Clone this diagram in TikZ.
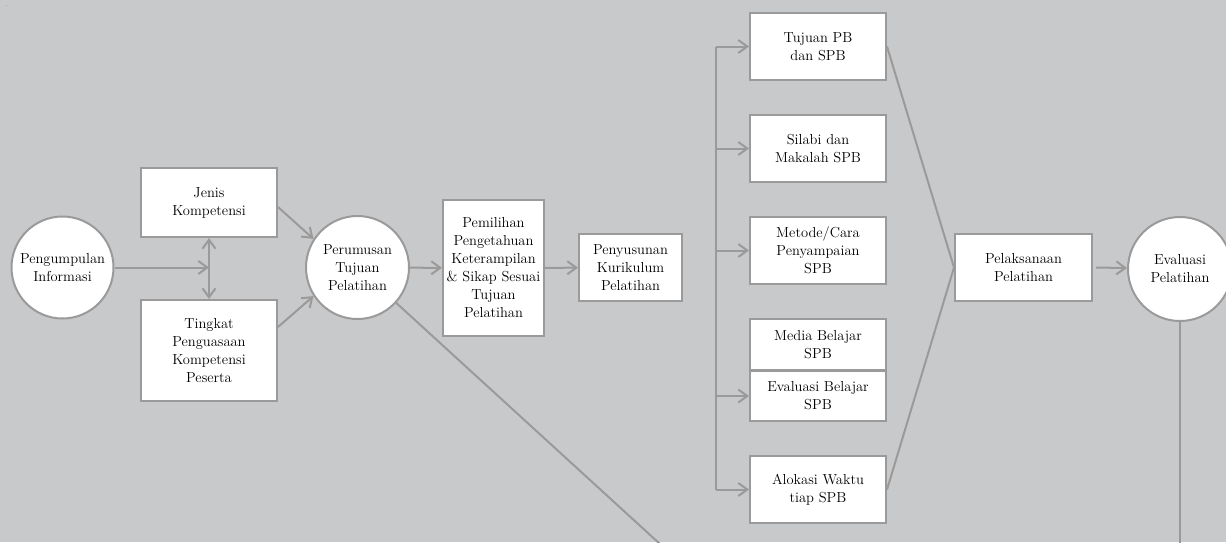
\documentclass[tikz,border=0pt]{standalone}
\usetikzlibrary{arrows.meta}
\definecolor{bg}{HTML}{C8C9CB}
\definecolor{ln}{HTML}{9A9A9A}
\begin{document}
\begin{tikzpicture}[x=1pt,y=-1pt,
  txt/.style={font=\fontsize{14.5}{18}\selectfont, align=center, text=black},
  box/.style={txt, draw=ln, line width=2pt, fill=white, inner sep=0pt, minimum width=#1},
  circ/.style={txt, draw=ln, line width=2pt, fill=white, circle, inner sep=0pt, minimum size=#1},
  conn/.style={draw=ln, line width=2pt},
  arr/.style={conn, -{Straight Barb[length=9pt,width=13pt]}}]
\fill[bg] (0,0) rectangle (1226,542);
\useasboundingbox (0,0) rectangle (1226,542);
\node[font=\fontsize{5}{5}\selectfont, inner sep=0pt] (dot) at (6.5,6.5) {.};
% nodes
\node[circ=102pt] (pi) at (62.5,267.5) {Pengumpulan\\Informasi};
\node[box=136pt, minimum height=69pt] (jenis) at (209,202.5) {Jenis\\Kompetensi};
\node[box=136pt, minimum height=101pt] (tingkat) at (209,350.5) {Tingkat\\Penguasaan\\Kompetensi\\Peserta};
\node[circ=103pt] (per) at (357.5,267.5) {Perumusan\\Tujuan\\Pelatihan};
\node[box=101pt, minimum height=136pt] (pem) at (493.5,268) {Pemilihan\\Pengetahuan\\Keterampilan\\\&~Sikap Sesuai\\Tujuan\\Pelatihan};
\node[box=103pt, minimum height=67pt] (pen) at (630.5,267.5) {Penyusunan\\Kurikulum\\Pelatihan};
\node[box=136pt, minimum height=67pt] (tuj) at (818,46.5) {Tujuan PB\\dan SPB};
\node[box=136pt, minimum height=67pt] (sil) at (818,148.5) {Silabi dan\\Makalah SPB};
\node[box=136pt, minimum height=67pt] (met) at (818,250.5) {Metode/Cara\\Penyampaian\\SPB};
\node[box=136pt, minimum height=51pt] (med) at (818,344.5) {Media Belajar\\SPB};
\node[box=136pt, minimum height=50pt] (evb) at (818,396) {Evaluasi Belajar\\SPB};
\node[box=136pt, minimum height=67pt] (alo) at (818,489.5) {Alokasi Waktu\\tiap SPB};
\node[box=137pt, minimum height=67pt] (pel) at (1023.5,267.5) {Pelaksanaan\\Pelatihan};
\node[circ=104pt] (ev) at (1180,269) {Evaluasi\\Pelatihan};
% coordinates
\coordinate (join) at (209,267.5);
\coordinate (vt) at (716,46.5);
\coordinate (vb) at (716,489.5);
\coordinate (dend) at (660,544);
\coordinate (vend) at (1180,544);
% connectors
\draw[arr] (pi) -- (join);
\draw[arr, {Straight Barb[length=9pt,width=13pt]}-{Straight Barb[length=9pt,width=13pt]}] (jenis.south) -- (tingkat.north);
\draw[arr] ([yshift=-4.5pt]jenis.east) -- (per.147);
\draw[arr] ([yshift=23.5pt]tingkat.east) -- (per.213);
\draw[arr] (per) -- (pem);
\draw[arr] (pem) -- (pen);
\draw[conn] (per) -- (dend);
\draw[conn] (vt) -- (vb);
\draw[arr] (vt) -- (tuj.west);
\draw[arr] (vt |- sil.west) -- (sil.west);
\draw[arr] (vt |- met.west) -- (met.west);
\draw[arr] (vt |- evb.west) -- (evb.west);
\draw[arr] (vb) -- (alo.west);
\draw[conn] (tuj.east) -- (pel.west) -- (alo.east);
\draw[arr] ([xshift=3pt]pel.east) -- (ev);
\draw[conn] (ev) -- (vend);
\end{tikzpicture}
\end{document}
